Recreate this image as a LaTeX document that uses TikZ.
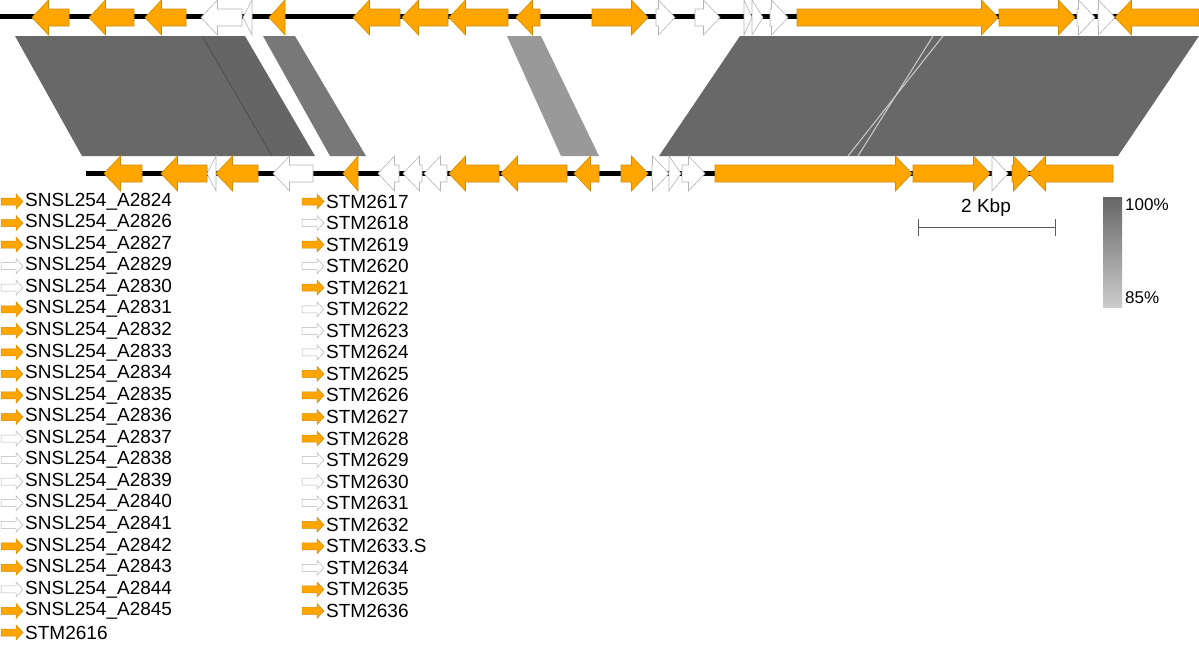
\documentclass[tikz,border=0pt]{standalone}
\usepackage{fontspec}
\setmainfont{Liberation Sans}
\definecolor{gor}{HTML}{FFA500}
\definecolor{goredge}{HTML}{D08C00}
\definecolor{gwedge}{HTML}{B4B4B4}
\definecolor{hom}{HTML}{686868}
\definecolor{homb}{HTML}{656565}
\definecolor{homc}{HTML}{787878}
\definecolor{homd}{HTML}{999999}
\tikzset{
  O/.style={fill=gor,draw=goredge,line width=0.6pt},
  W/.style={fill=white,draw=gwedge,line width=0.6pt},
  track/.style={line width=5pt,black},
  lab/.style={anchor=west,inner sep=0pt,font=\fontsize{19}{22}\selectfont},
  pct/.style={anchor=west,inner sep=0pt,font=\fontsize{17}{20}\selectfont},
}
% right-pointing gene: y, x1, x2, style
\newcommand\gR[4]{%
  \pgfmathsetmacro\hb{max(#2,#3-16.5)}%
  \draw[#4,line join=miter] (#2,#1-8.5) -- (\hb,#1-8.5) -- (\hb,#1-17.5) -- (#3,#1) -- (\hb,#1+17.5) -- (\hb,#1+8.5) -- (#2,#1+8.5) -- cycle;}
% left-pointing gene: y, tip x, end x, style
\newcommand\gL[4]{%
  \pgfmathsetmacro\hb{min(#3,#2+16.5)}%
  \draw[#4,line join=miter] (#3,#1-8.5) -- (\hb,#1-8.5) -- (\hb,#1-17.5) -- (#2,#1) -- (\hb,#1+17.5) -- (\hb,#1+8.5) -- (#3,#1+8.5) -- cycle;}
% legend entry: x, row index, style, text, name
\newcommand\lgd[5]{%
  \pgfmathsetmacro\ly{201.5+21.55*#2}%
  \draw[#3,line width=0.5pt] (#1,\ly-3.5) -- (#1+15,\ly-3.5) -- (#1+15,\ly-7.5) -- (#1+22,\ly) -- (#1+15,\ly+7.5) -- (#1+15,\ly+3.5) -- (#1,\ly+3.5) -- cycle;
  \node[lab] (#5) at (#1+24,\ly) {#4};}
\begin{document}
\begin{tikzpicture}[x=1pt,y=-1pt]
\useasboundingbox (0,0) rectangle (1199,645);
% homology blocks
\fill[hom] (15,36) -- (202,36) -- (272,156) -- (82,156) -- cycle;
\fill[homb] (202,36) -- (245,36) -- (315,156) -- (272,156) -- cycle;
\draw[black!75,line width=0.6pt] (202,36) -- (272,156);
\fill[homc] (263,36) -- (295,36) -- (366,156) -- (330,156) -- cycle;
\fill[homd] (507,36) -- (541,36) -- (599,156) -- (561,156) -- cycle;
\fill[hom] (740,36) -- (1199,36) -- (1118,156) -- (659,156) -- cycle;
\draw[black!20,line width=1pt] (933,36) -- (858,156);
\draw[black!20,line width=1pt] (943,36) -- (848,156);
% tracks
\draw[track] (0,16.5) -- (1199,16.5);
\draw[track] (86,173.5) -- (1113,173.5);
% top genes
\gL{17.5}{32}{69}{O}
\gL{17.5}{89}{134}{O}
\gL{17.5}{145}{186}{O}
\gL{17.5}{201}{242}{W}
\gL{17.5}{243}{252}{W}
\gL{17.5}{269}{285}{O}
\gL{17.5}{353}{400}{O}
\gL{17.5}{402}{448}{O}
\gL{17.5}{449}{508}{O}
\gL{17.5}{516}{540}{O}
\gR{17.5}{592}{648}{O}
\gR{17.5}{656}{675}{W}
\gR{17.5}{695}{720}{W}
\gR{17.5}{744}{752}{W}
\gR{17.5}{752}{763}{W}
\gR{17.5}{770}{788}{W}
\gR{17.5}{797}{998}{O}
\gR{17.5}{999}{1075}{O}
\gR{17.5}{1077}{1095}{W}
\gR{17.5}{1098}{1115}{W}
\gL{17.5}{1115}{1199}{O}
% bottom genes
\gL{173.5}{104}{142}{O}
\gL{173.5}{161}{207}{O}
\gL{173.5}{207}{216}{W}
\gL{173.5}{216}{258}{O}
\gL{173.5}{273}{313}{W}
\gL{173.5}{343}{358}{O}
\gL{173.5}{378}{399}{W}
\gL{173.5}{403}{422}{W}
\gL{173.5}{424}{447}{W}
\gL{173.5}{449}{499}{O}
\gL{173.5}{501}{567}{O}
\gL{173.5}{574}{599}{O}
\gR{173.5}{621}{648}{O}
\gR{173.5}{652}{669}{W}
\gR{173.5}{669}{681}{W}
\gR{173.5}{682}{705}{W}
\gR{173.5}{715}{912}{O}
\gR{173.5}{913}{990}{O}
\gR{173.5}{992}{1008}{W}
\gR{173.5}{1012}{1030}{O}
\gL{173.5}{1029}{1113}{O}
% scale bar
\node[font=\fontsize{19}{22}\selectfont,inner sep=0pt] (kbp) at (986,208) {2 Kbp};
\coordinate (sbl) at (918,227);
\coordinate (sbr) at (1055,227);
\draw[black!65,line width=1pt] (sbl) -- (sbr);
\draw[black!65,line width=1pt] ([yshift=8pt]sbl) -- ([yshift=-9pt]sbl);
\draw[black!65,line width=1pt] ([yshift=8pt]sbr) -- ([yshift=-9pt]sbr);
% identity gradient
\shade[top color=black!60,bottom color=black!20] (1103,197) rectangle (1122,307);
\node[pct] (p100) at (1125,205) {100\%};
\node[pct] (p85) at (1125,298) {85\%};
% legend column 1
\lgd{1}{0}{O}{SNSL254\_A2824}{a0}
\lgd{1}{1}{O}{SNSL254\_A2826}{a1}
\lgd{1}{2}{O}{SNSL254\_A2827}{a2}
\lgd{1}{3}{W}{SNSL254\_A2829}{a3}
\lgd{1}{4}{W}{SNSL254\_A2830}{a4}
\lgd{1}{5}{O}{SNSL254\_A2831}{a5}
\lgd{1}{6}{O}{SNSL254\_A2832}{a6}
\lgd{1}{7}{O}{SNSL254\_A2833}{a7}
\lgd{1}{8}{O}{SNSL254\_A2834}{a8}
\lgd{1}{9}{O}{SNSL254\_A2835}{a9}
\lgd{1}{10}{O}{SNSL254\_A2836}{a10}
\lgd{1}{11}{W}{SNSL254\_A2837}{a11}
\lgd{1}{12}{W}{SNSL254\_A2838}{a12}
\lgd{1}{13}{W}{SNSL254\_A2839}{a13}
\lgd{1}{14}{W}{SNSL254\_A2840}{a14}
\lgd{1}{15}{W}{SNSL254\_A2841}{a15}
\lgd{1}{16}{O}{SNSL254\_A2842}{a16}
\lgd{1}{17}{O}{SNSL254\_A2843}{a17}
\lgd{1}{18}{W}{SNSL254\_A2844}{a18}
\lgd{1}{19}{O}{SNSL254\_A2845}{a19}
\lgd{1}{20}{O}{STM2616}{a20}
% legend column 2
\lgd{302}{0}{O}{STM2617}{b0}
\lgd{302}{1}{W}{STM2618}{b1}
\lgd{302}{2}{O}{STM2619}{b2}
\lgd{302}{3}{W}{STM2620}{b3}
\lgd{302}{4}{O}{STM2621}{b4}
\lgd{302}{5}{W}{STM2622}{b5}
\lgd{302}{6}{W}{STM2623}{b6}
\lgd{302}{7}{W}{STM2624}{b7}
\lgd{302}{8}{O}{STM2625}{b8}
\lgd{302}{9}{O}{STM2626}{b9}
\lgd{302}{10}{O}{STM2627}{b10}
\lgd{302}{11}{O}{STM2628}{b11}
\lgd{302}{12}{W}{STM2629}{b12}
\lgd{302}{13}{W}{STM2630}{b13}
\lgd{302}{14}{W}{STM2631}{b14}
\lgd{302}{15}{O}{STM2632}{b15}
\lgd{302}{16}{O}{STM2633.S}{b16}
\lgd{302}{17}{W}{STM2634}{b17}
\lgd{302}{18}{O}{STM2635}{b18}
\lgd{302}{19}{O}{STM2636}{b19}
\end{tikzpicture}
\end{document}
